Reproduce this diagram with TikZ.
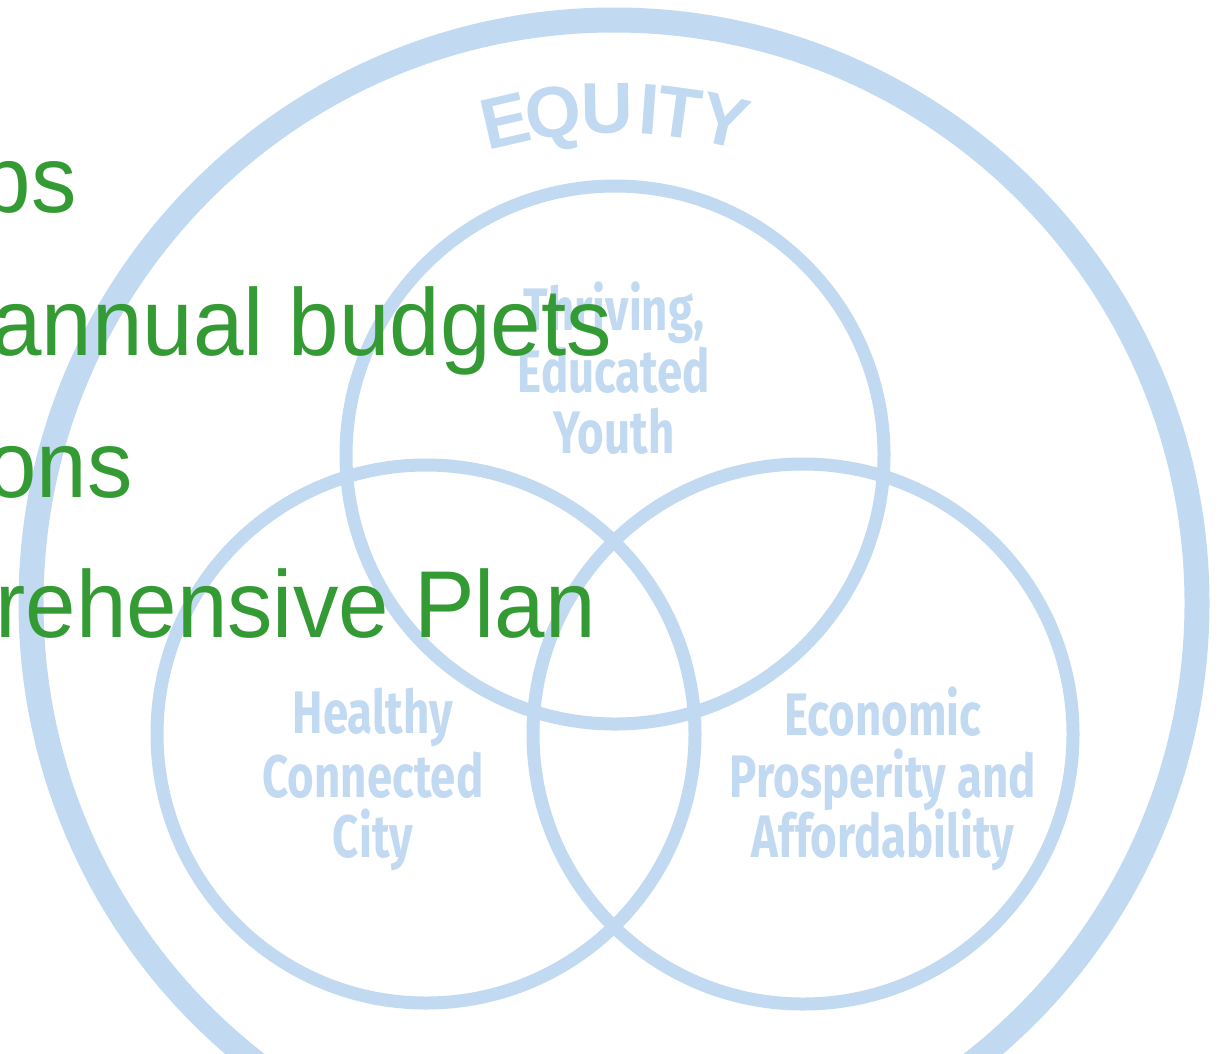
\documentclass[tikz,border=0pt]{standalone}
\usepackage{fontspec}
\setmainfont{Liberation Sans}
\newfontfamily\circfont[FakeStretch=0.76]{Fira Sans}
\newfontfamily\listfont[FakeStretch=0.955]{Liberation Sans}
\usetikzlibrary{calc}
\definecolor{band}{RGB}{194,218,241}
\definecolor{grn}{RGB}{52,155,52}
\begin{document}
\begin{tikzpicture}[x=1pt,y=-1pt,
  ring/.style={draw=band, line width=13pt},
  bigring/.style={draw=band, line width=25pt},
  area/.style={text=band, font=\circfont\bfseries\fontsize{60}{62}\selectfont, inner sep=0, anchor=base},
  eq/.style={text=band, font=\bfseries\fontsize{72}{72}\selectfont, inner sep=0, anchor=base},
  item/.style={text=grn, font=\listfont\fontsize{95}{95}\selectfont, anchor=base east, inner sep=0}]
\useasboundingbox (0,0) rectangle (1220,1053);
\clip (0,0) rectangle (1220,1053);
\fill[white] (0,0) rectangle (1220,1053);
% centres
\coordinate (C0) at (614,603);
\coordinate (CT) at (615,455);
\coordinate (CL) at (426,734);
\coordinate (CR) at (803,734);
\coordinate (CE) at (614,592);
% rings
\draw[bigring] (C0) circle (583);
\draw[ring] (CT) circle (269);
\draw[ring] (CL) circle (269);
\draw[ring] (CR) circle (270);
% EQUITY
\node[eq, rotate=13.0] (e1) at ($(CE)+(-90-13.0:459)$) {E};
\node[eq, rotate=7.2]  (e2) at ($(CE)+(-90-7.2:459)$) {Q};
\node[eq, rotate=0.8]  (e3) at ($(CE)+(-90-0.8:459)$) {U};
\node[eq, rotate=-4.2] (e4) at ($(CE)+(-90+4.2:459)$) {I};
\node[eq, rotate=-7.8] (e5) at ($(CE)+(-90+7.8:459)$) {T};
\node[eq, rotate=-13.2] (e6) at ($(CE)+(-90+13.2:459)$) {Y};
% area texts
\node[area] (t1) at (614,330) {Thriving,};
\node[area] (t2) at (614,392) {Educated};
\node[area] (t3) at (614,453) {Youth};
\node[area] (h1) at (373,733) {Healthy};
\node[area] (h2) at (373,797) {Connected};
\node[area] (h3) at (373,857) {City};
\node[area] (p1) at (883,735) {Economic};
\node[area] (p2) at (883,797) {Prosperity and};
\node[area] (p3) at (883,857) {Affordability};
% green list
\node[item] (g1) at (77,212) {ps};
\node[item] (g2) at (612,355) {annual budgets};
\node[item] (g3) at (133,497) {ons};
\node[item] (g4) at (596,637) {rehensive Plan};
\end{tikzpicture}
\end{document}
